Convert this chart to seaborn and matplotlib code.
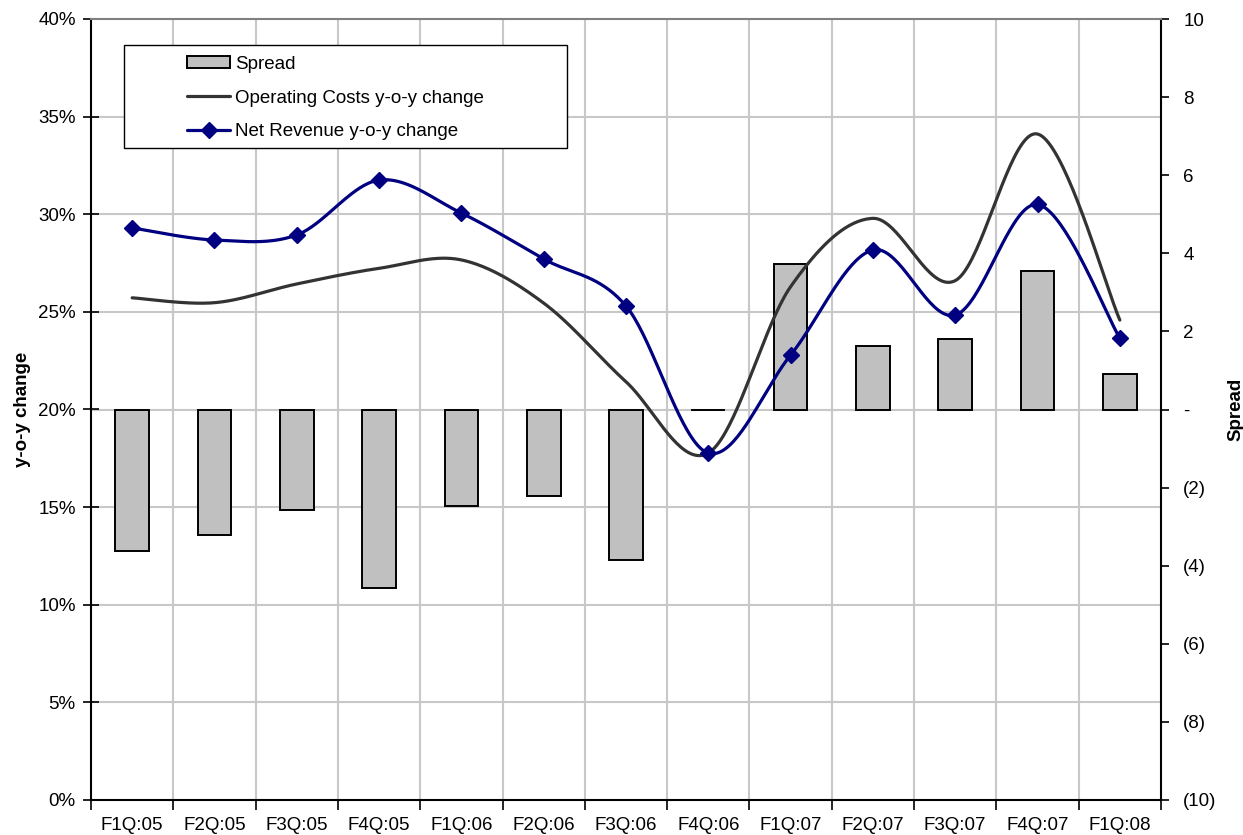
import numpy as np
import pandas as pd
import matplotlib
matplotlib.use("Agg")
import matplotlib.pyplot as plt
from matplotlib.patches import Rectangle, Patch
from matplotlib.lines import Line2D
from matplotlib.ticker import FuncFormatter, FixedLocator
import seaborn as sns

# ---------------- data ----------------
quarters = ["F1Q:05", "F2Q:05", "F3Q:05", "F4Q:05", "F1Q:06", "F2Q:06", "F3Q:06",
            "F4Q:06", "F1Q:07", "F2Q:07", "F3Q:07", "F4Q:07", "F1Q:08"]
spread = [-3.62, -3.22, -2.57, -4.57, -2.47, -2.21, -3.85, 0.0, 3.73, 1.63, 1.80, 3.55, 0.90]
op_costs = [25.72, 25.47, 26.43, 27.23, 27.66, 25.45, 21.42, 17.77, 26.29, 29.79, 26.60, 34.11, 24.58]
net_revenue = [29.30, 28.68, 28.94, 31.75, 30.06, 27.71, 25.30, 17.77, 22.79, 28.17, 24.84, 30.50, 23.65]
left_ticks = [0, 5, 10, 15, 20, 25, 30, 35, 40]
right_ticks = [-10, -8, -6, -4, -2, 0, 2, 4, 6, 8, 10]

# ---------------- style ----------------
sns.set_style("white")
plt.rcParams["font.family"] = ["Liberation Sans", "DejaVu Sans"]
plt.rcParams["text.color"] = "black"
plt.rcParams["axes.labelcolor"] = "black"
plt.rcParams["xtick.color"] = "black"
plt.rcParams["ytick.color"] = "black"
FS = 13.5
BAR_COLOR = "#C0C0C0"
OP_COLOR = "#333333"
NR_COLOR = "#000080"
GRID = "#C8C8C8"
MS = 8.5


def smooth(xv, yv, n=40):
    """Excel-like smoothed line (uniform Catmull-Rom / Bezier)."""
    P = np.column_stack([xv, yv]).astype(float)
    out = []
    m = len(P)
    for i in range(m - 1):
        p0 = P[i - 1] if i > 0 else P[i]
        p1, p2 = P[i], P[i + 1]
        p3 = P[i + 2] if i + 2 < m else P[i + 1]
        c1 = p1 + (p2 - p0) / 6.0
        c2 = p2 - (p3 - p1) / 6.0
        t = np.linspace(0, 1, n)[:, None]
        seg = ((1 - t) ** 3) * p1 + 3 * ((1 - t) ** 2) * t * c1 + 3 * (1 - t) * t ** 2 * c2 + t ** 3 * p2
        out.append(seg if i == 0 else seg[1:])
    s = np.vstack(out)
    return s[:, 0], s[:, 1]


fig = plt.figure(figsize=(12.43, 8.35), dpi=100)
ax = fig.add_axes([91 / 1243, 1 - 800 / 835, (1161 - 91) / 1243, (800 - 19) / 835])
ax2 = ax.twinx()

# bars on the right axis (spread)
df = pd.DataFrame({"quarter": quarters, "spread": spread})
sns.barplot(data=df, x="quarter", y="spread", ax=ax2, color=BAR_COLOR,
            edgecolor="black", linewidth=1.4, width=0.41, saturation=1)
ax2.set_ylim(-10, 10)
ax2.set_xlim(-0.5, len(quarters) - 0.5)

# lines on the left axis (on top)
ax.set_zorder(ax2.get_zorder() + 1)
ax.patch.set_visible(False)
ax2.patch.set_visible(True)
ax2.patch.set_facecolor("white")

xpos = np.arange(len(quarters))
sx, sy = smooth(xpos, op_costs)
sns.lineplot(x=sx, y=sy, ax=ax, color=OP_COLOR, linewidth=2.3, sort=False,
             estimator=None, zorder=3)
sx, sy = smooth(xpos, net_revenue)
sns.lineplot(x=sx, y=sy, ax=ax, color=NR_COLOR, linewidth=2.3, sort=False,
             estimator=None, zorder=4)
ax.plot(xpos, net_revenue, linestyle="none", marker="D", markersize=MS,
        color=NR_COLOR, zorder=5)

ax.set_ylim(0, 40)
ax.set_xlim(-0.5, len(quarters) - 0.5)

# y axes ticks
ax.set_yticks(left_ticks)
ax.yaxis.set_major_formatter(FuncFormatter(lambda v, p: f"{int(round(v))}%"))
ax.tick_params(axis="y", direction="inout", length=12, width=1.2, color="black",
               labelsize=FS, labelcolor="black", pad=5, left=True)

ax2.set_yticks(right_ticks)


def spread_fmt(v, p):
    v = int(round(v))
    if v == 0:
        return "-"
    if v < 0:
        return f"({-v})"
    return f"{v}"


ax2.yaxis.set_major_formatter(FuncFormatter(spread_fmt))
ax2.tick_params(axis="y", direction="out", length=6, width=1.2, color="black",
                labelsize=FS, labelcolor="black", pad=10, right=True)

# x axis: tick marks at boundaries, labels at centres
ax.xaxis.set_major_locator(FixedLocator(np.arange(-0.5, len(quarters), 1.0)))
ax.set_xticklabels([], minor=False)
ax.set_xticks(xpos, minor=True)
ax.set_xticklabels(quarters, minor=True)
ax.tick_params(axis="x", which="major", direction="out", length=7, width=1.2,
               color="black", bottom=True)
ax.tick_params(axis="x", which="minor", length=0, labelsize=FS,
               labelcolor="black", pad=12)
ax2.tick_params(axis="x", which="both", bottom=False, labelbottom=False)
ax2.set_xlabel("")

# grid on the back axis, in sync with the left scale
for v in left_ticks[1:-1]:
    ax2.axhline((v - 20) / 2.0, color=GRID, linewidth=1.5, zorder=0)
for b in np.arange(0.5, len(quarters) - 1, 1.0):
    ax2.axvline(b, color=GRID, linewidth=1.5, zorder=0)
ax.grid(False)
ax2.grid(False)

for a in (ax, ax2):
    for s in a.spines.values():
        s.set_visible(False)
for name, a, col in (("left", ax, "black"), ("bottom", ax, "black"),
                     ("top", ax, "#808080"), ("right", ax2, "black")):
    a.spines[name].set_visible(True)
    a.spines[name].set_color(col)
    a.spines[name].set_linewidth(1.5)

ax.set_xlabel("")
ax.set_ylabel("y-o-y change", fontsize=FS, fontweight="bold", labelpad=5,
              color="black")
ax2.set_ylabel("Spread", fontsize=FS, fontweight="bold", rotation=90,
               labelpad=8, color="black")

# legend
box_x0 = (124 - 91) / 1070
box_y0 = (800 - 148) / 781
box_w = (567 - 124) / 1070
box_h = (148 - 45) / 781
ax.add_patch(Rectangle((box_x0, box_y0), box_w, box_h, transform=ax.transAxes,
                       facecolor="white", edgecolor="black", linewidth=1.0, zorder=6))
handles = [
    Patch(facecolor=BAR_COLOR, edgecolor="black", linewidth=1.4),
    Line2D([], [], color=OP_COLOR, linewidth=2.3),
    Line2D([], [], color=NR_COLOR, linewidth=2.3, marker="D", markersize=MS),
]
labels = ["Spread", "Operating Costs y-o-y change", "Net Revenue y-o-y change"]
leg = ax.legend(handles, labels, loc="upper left", frameon=False, fontsize=FS,
                bbox_to_anchor=((188 - 91) / 1070 - 0.004, (800 - 52) / 781),
                handlelength=2.25, handletextpad=0.3, labelspacing=0.9,
                borderpad=0.2, borderaxespad=0, handleheight=0.6)
leg.set_zorder(7)
for t in leg.get_texts():
    t.set_color("black")

fig.savefig("out.png", dpi=100)
